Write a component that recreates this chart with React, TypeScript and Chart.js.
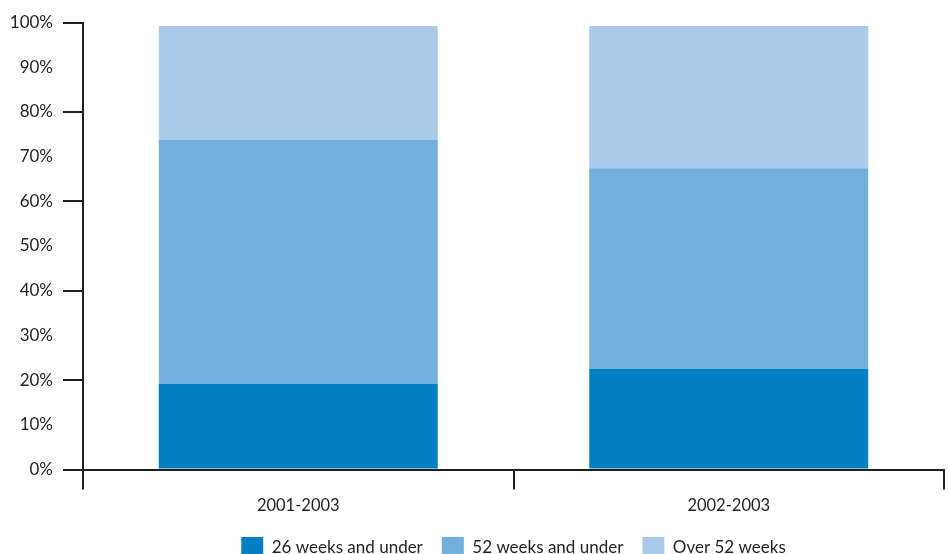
import React, { useEffect, useRef } from "react";
import { Chart, registerables } from "chart.js";

Chart.register(...registerables);

const categories = ["2001-2003", "2002-2003"];
const seriesNames = ["26 weeks and under", "52 weeks and under", "Over 52 weeks"];
const under26 = [19.1, 22.5];
const under52 = [54.6, 44.9];
const over52 = [25.5, 31.8];
const seriesColors = ["#0080c3", "#72afdc", "#a9cae8"];

const INK = "#231f20";
const FONT = "Lato, 'Open Sans', sans-serif";

export default function App() {
  const ref = useRef<HTMLCanvasElement | null>(null);

  useEffect(() => {
    if (!ref.current) return;
    const values = [under26, under52, over52];
    const chart = new Chart(ref.current, {
      type: "bar",
      data: {
        labels: categories,
        datasets: seriesNames.map((name, i) => ({
          label: name,
          data: values[i],
          backgroundColor: seriesColors[i],
          borderWidth: 0,
          categoryPercentage: 1,
          barPercentage: 0.648,
        })),
      },
      options: {
        responsive: false,
        animation: false,
        layout: { padding: { top: 22.5, right: 5, left: 0, bottom: 0 } },
        plugins: {
          tooltip: { enabled: false },
          legend: {
            position: "bottom",
            fullSize: false,
            labels: {
              boxWidth: 22,
              boxHeight: 22,
              padding: 19,
              color: INK,
              font: { family: FONT, size: 17 },
            },
          },
        },
        scales: {
          x: {
            stacked: true,
            grid: {
              display: true,
              drawOnChartArea: false,
              drawTicks: true,
              tickLength: 20,
              tickColor: INK,
              lineWidth: 2,
              offset: true,
            },
            border: { display: true, color: INK, width: 2 },
            ticks: { color: INK, padding: 6, font: { family: FONT, size: 16.5 } },
            afterFit: (scale: any) => {
              scale.height = 48.5;
            },
          },
          y: {
            stacked: true,
            min: 0,
            max: 100,
            grid: {
              display: true,
              drawOnChartArea: false,
              drawTicks: true,
              tickLength: 20,
              lineWidth: 2,
              tickColor: (ctx: any) =>
                ctx.tick && Math.round(ctx.tick.value) % 20 === 0 ? INK : "rgba(0,0,0,0)",
            },
            border: { display: true, color: INK, width: 2 },
            ticks: {
              stepSize: 10,
              color: INK,
              padding: 10,
              font: { family: FONT, size: 17 },
              callback: (v: any) => `${v}%`,
            },
            afterFit: (scale: any) => {
              scale.width = 83;
            },
          },
        },
      },
    });
    return () => chart.destroy();
  }, []);

  return (
    <div
      style={{
        position: "absolute",
        top: 0,
        left: 0,
        width: 949,
        height: 554,
        overflow: "hidden",
        background: "#fff",
      }}
    >
      <canvas ref={ref} width={949} height={569} style={{ display: "block" }} />
    </div>
  );
}
